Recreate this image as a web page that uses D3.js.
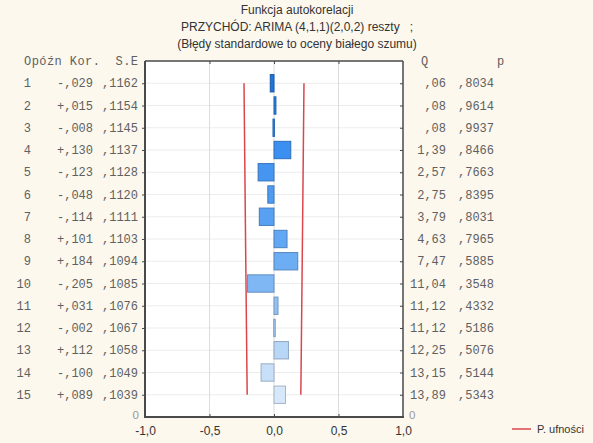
<!DOCTYPE html>
<html>
<head>
<meta charset="utf-8">
<script src="https://cdn.jsdelivr.net/npm/d3@7"></script>
<style>
  html, body { margin: 0; padding: 0; background: #fcf8ee; }
  svg { display: block; }
  text { white-space: pre; }
</style>
</head>
<body>
<svg id="chart" width="593" height="443"></svg>
<script>
// Autocorrelation table for the ARIMA residuals
const lags = [1, 2, 3, 4, 5, 6, 7, 8, 9, 10, 11, 12, 13, 14, 15];
const corr = [-0.029, 0.015, -0.008, 0.130, -0.123, -0.048, -0.114, 0.101, 0.184, -0.205, 0.031, -0.002, 0.112, -0.100, 0.089];
const stdErr = [0.1162, 0.1154, 0.1145, 0.1137, 0.1128, 0.1120, 0.1111, 0.1103, 0.1094, 0.1085, 0.1076, 0.1067, 0.1058, 0.1049, 0.1039];
const qStat = [0.06, 0.08, 0.08, 1.39, 2.57, 2.75, 3.79, 4.63, 7.47, 11.04, 11.12, 11.12, 12.25, 13.15, 13.89];
const pValue = [0.8034, 0.9614, 0.9937, 0.8466, 0.7663, 0.8395, 0.8031, 0.7965, 0.5885, 0.3548, 0.4332, 0.5186, 0.5076, 0.5144, 0.5343];
const xTicks = [-1, -0.5, 0, 0.5, 1];
const titleLines = [
  "Funkcja autokorelacji",
  "PRZYCHÓD: ARIMA (4,1,1)(2,0,2) reszty   ;",
  "(Błędy standardowe to oceny białego szumu)"
];
const legendLabel = "P. ufności";

const svg = d3.select("#chart");
const plot = { left: 145, right: 403, top: 61, bottom: 417 };

const x = d3.scaleLinear().domain([-1, 1]).range([plot.left, plot.right]);
const y = d3.scaleLinear().domain([0, 16]).range([plot.top, plot.bottom]);
const rowH = y(1) - y(0);
const barH = rowH * 0.78;

// Statistica-style number formats: comma decimal, no leading zero, explicit sign
const trimZero = s => s.replace(/^(-?)0,/, "$1,");
const fmtFixed = (v, d) => trimZero(v.toFixed(d).replace(".", ","));
const fmtCorr = v => (v < 0 ? "-" : "+") + fmtFixed(Math.abs(v), 3);
const fmtAxis = v => v.toFixed(1).replace(".", ",");

const rows = lags.map((lag, i) => ({
  lag, r: corr[i], se: stdErr[i], q: qStat[i], p: pValue[i]
}));

// plot background
svg.append("rect")
  .attr("x", plot.left).attr("y", plot.top)
  .attr("width", plot.right - plot.left).attr("height", plot.bottom - plot.top)
  .attr("fill", "#ffffff");

// grid
svg.append("g").selectAll("line").data(lags).join("line")
  .attr("x1", plot.left).attr("x2", plot.right)
  .attr("y1", d => y(d)).attr("y2", d => y(d))
  .attr("stroke", "#ececec").attr("stroke-width", 1);
svg.append("g").selectAll("line").data([-0.5, 0, 0.5]).join("line")
  .attr("x1", d => x(d)).attr("x2", d => x(d))
  .attr("y1", plot.top).attr("y2", plot.bottom)
  .attr("stroke", "#dcdcdc").attr("stroke-width", 1);

// bars, shaded from deep blue at lag 1 to pale blue at lag 15
const fill = d3.scaleLinear()
  .domain([1, 4, 9, 13, 15])
  .range(["#1f74da", "#3b8ff0", "#6cadf4", "#b8d6f6", "#d6e8fa"]);

svg.append("g").selectAll("rect").data(rows).join("rect")
  .attr("x", d => Math.min(x(0), x(d.r)))
  .attr("width", d => Math.max(1.5, Math.abs(x(d.r) - x(0))))
  .attr("y", d => y(d.lag) - barH / 2)
  .attr("height", barH)
  .attr("fill", d => fill(d.lag))
  .attr("stroke", d => d3.color(fill(d.lag)).darker(0.7))
  .attr("stroke-width", 1);

// confidence limits at +/- 2 standard errors
const limitLine = sign => d3.line()
  .x(d => x(sign * 2 * d.se))
  .y(d => y(d.lag));
[-1, 1].forEach(sign => {
  svg.append("path")
    .datum(rows)
    .attr("d", limitLine(sign))
    .attr("fill", "none")
    .attr("stroke", "#d9474d")
    .attr("stroke-width", 1.5);
});

// frame
const frame = svg.append("g").attr("stroke", "#4a4a4a").attr("fill", "none");
frame.append("line").attr("x1", plot.left).attr("x2", plot.right).attr("y1", plot.top).attr("y2", plot.top).attr("stroke-width", 1.5);
frame.append("line").attr("x1", plot.right).attr("x2", plot.right).attr("y1", plot.top).attr("y2", plot.bottom).attr("stroke-width", 1.5);
frame.append("line").attr("x1", plot.left).attr("x2", plot.left).attr("y1", plot.top).attr("y2", plot.bottom).attr("stroke-width", 2);
frame.append("line").attr("x1", plot.left - 1).attr("x2", plot.right + 1).attr("y1", plot.bottom).attr("y2", plot.bottom).attr("stroke-width", 2.2);

// x axis
const sans = "Liberation Sans, Arial, sans-serif";
const xAxis = d3.axisBottom(x).tickValues(xTicks).tickFormat(fmtAxis).tickSize(-3).tickPadding(9);
const gx = svg.append("g").attr("transform", `translate(0,${plot.bottom})`).call(xAxis);
gx.select(".domain").remove();
gx.selectAll(".tick line").attr("stroke", "#4a4a4a");
gx.selectAll(".tick text").attr("font-family", sans).attr("font-size", 12).attr("fill", "#333");
gx.selectAll(".tick").filter(d => d === -1 || d === 1).select("line").remove();

const xTop = d3.axisTop(x).tickValues([-0.5, 0, 0.5]).tickFormat("").tickSize(-3);
const gxt = svg.append("g").attr("transform", `translate(0,${plot.top})`).call(xTop);
gxt.select(".domain").remove();
gxt.selectAll(".tick line").attr("stroke", "#4a4a4a");

// lag ticks on both sides
const yLeft = d3.axisLeft(y).tickValues(lags).tickFormat("").tickSize(3);
const gyl = svg.append("g").attr("transform", `translate(${plot.left},0)`).call(yLeft);
gyl.select(".domain").remove();
gyl.selectAll(".tick line").attr("stroke", "#4a4a4a");
const yRight = d3.axisRight(y).tickValues(lags).tickFormat("").tickSize(-3);
const gyr = svg.append("g").attr("transform", `translate(${plot.right},0)`).call(yRight);
gyr.select(".domain").remove();
gyr.selectAll(".tick line").attr("stroke", "#4a4a4a");

// zero marks at the bottom corners
svg.append("text").attr("x", plot.left - 6).attr("y", plot.bottom + 2)
  .attr("text-anchor", "end").attr("font-family", sans).attr("font-size", 11.5).attr("fill", "#999").text("0");
svg.append("text").attr("x", plot.right + 6).attr("y", plot.bottom + 2)
  .attr("text-anchor", "start").attr("font-family", sans).attr("font-size", 11.5).attr("fill", "#999").text("0");

// table columns
const mono = "Liberation Mono, Courier New, monospace";
const table = svg.append("g").attr("font-family", mono).attr("font-size", 12).attr("fill", "#606060");
const col = (xPos, accessor) => table.append("g").selectAll("text").data(rows).join("text")
  .attr("x", xPos).attr("y", d => y(d.lag) + 4)
  .attr("text-anchor", "end").text(accessor);
col(31, d => String(d.lag));
col(93, d => fmtCorr(d.r));
col(138, d => fmtFixed(d.se, 4));
col(446, d => fmtFixed(d.q, 2));
col(494, d => fmtFixed(d.p, 4));

table.append("text").attr("x", 138).attr("y", y(0) + 4).attr("text-anchor", "end")
  .attr("textLength", 114).attr("lengthAdjust", "spacing").text("Opóźn Kor.  S.E");
table.append("text").attr("x", 421).attr("y", y(0) + 4).text("Q");
table.append("text").attr("x", 497).attr("y", y(0) + 4).text("p");

// title
svg.append("g").selectAll("text").data(titleLines).join("text")
  .attr("x", 297).attr("y", (d, i) => 14 + i * 17)
  .attr("text-anchor", "middle")
  .attr("font-family", sans)
  .attr("font-size", 12).attr("fill", "#333")
  .text(d => d);

// legend
const lg = svg.append("g").attr("transform", "translate(512,429)");
lg.append("line").attr("x1", 0).attr("x2", 19).attr("stroke", "#d9474d").attr("stroke-width", 1.5);
lg.append("text").attr("x", 25).attr("y", 4)
  .attr("font-family", sans)
  .attr("font-size", 11).attr("fill", "#333").text(legendLabel);
</script>
</body>
</html>
